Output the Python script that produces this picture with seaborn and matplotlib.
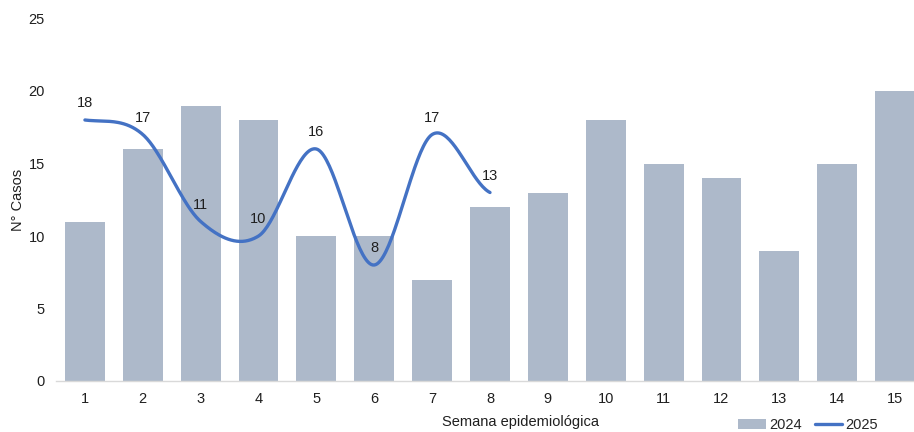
import numpy as np
import pandas as pd
import matplotlib
matplotlib.use("Agg")
import matplotlib.pyplot as plt
import seaborn as sns
from matplotlib.patches import Patch
from matplotlib.lines import Line2D

weeks = [str(i) for i in range(1, 16)]
cases_2024 = [11, 16, 19, 18, 10, 10, 7, 12, 13, 18, 15, 14, 9, 15, 20]
cases_2025 = [18, 17, 11, 10, 16, 8, 17, 13]

bar_color = "#ADB9CA"
line_color = "#4472C4"
text_color = "#1f1f1f"
fs = 10.5

sns.set_theme(style="white")
plt.rcParams["font.family"] = ["Liberation Sans", "DejaVu Sans"]

fig = plt.figure(figsize=(9.14, 4.32), dpi=100)
ax = fig.add_axes([56 / 914, 51 / 432, 868 / 914, 362.5 / 432])

df24 = pd.DataFrame({"week": weeks, "cases": cases_2024})
sns.barplot(data=df24, x="week", y="cases", color=bar_color, saturation=1,
            width=0.69, ax=ax, edgecolor="none")

# Catmull-Rom style smoothing (like Excel smoothed line) for drawing
def catmull_rom(y, n=40):
    y = np.asarray(y, dtype=float)
    x = np.arange(len(y), dtype=float)
    P = np.concatenate([[y[0]], y, [y[-1]]])
    X = np.concatenate([[x[0]], x, [x[-1]]])
    xs, ys = [], []
    for i in range(1, len(P) - 2):
        t = np.linspace(0, 1, n, endpoint=False)
        p0, p1, p2, p3 = P[i - 1], P[i], P[i + 1], P[i + 2]
        q1, q2 = X[i], X[i + 1]
        m1 = (p2 - p0) / 2 if i > 1 else (p2 - p1) / 2
        m2 = (p3 - p1) / 2 if i < len(P) - 3 else (p2 - p1) / 2
        h00 = 2 * t**3 - 3 * t**2 + 1
        h10 = t**3 - 2 * t**2 + t
        h01 = -2 * t**3 + 3 * t**2
        h11 = t**3 - t**2
        ys.append(h00 * p1 + h10 * m1 + h01 * p2 + h11 * m2)
        xs.append(q1 + t * (q2 - q1))
    xs.append([x[-1]])
    ys.append([y[-1]])
    return np.concatenate(xs), np.concatenate(ys)

sx, sy = catmull_rom(cases_2025)
sns.lineplot(x=sx, y=sy, color=line_color, linewidth=2.4, ax=ax, sort=False,
             estimator=None)

for i, v in enumerate(cases_2025):
    ax.annotate(str(v), (i, v), xytext=(0, 12), textcoords="offset points",
                ha="center", va="center", fontsize=fs, color=text_color)

ax.set_xlim(-0.5, 14.5)
ax.set_ylim(0, 25)
ax.set_yticks([0, 5, 10, 15, 20, 25])
ax.tick_params(axis="both", labelsize=fs, colors=text_color, length=0)
ax.tick_params(axis="x", pad=8)
ax.tick_params(axis="y", pad=8)
for s in ["top", "right", "left"]:
    ax.spines[s].set_visible(False)
ax.spines["bottom"].set_color("#D9D9D9")
ax.spines["bottom"].set_linewidth(1)
ax.set_xlabel("")
ax.set_ylabel("N° Casos", fontsize=fs, color=text_color)
ax.yaxis.set_label_coords(-0.036, 0.5)
fig.text(520 / 914, 1 - 422 / 432, "Semana epidemiológica", ha="center",
         va="center", fontsize=fs, color=text_color)

handles = [Patch(facecolor=bar_color, edgecolor="none"),
           Line2D([0], [0], color=line_color, linewidth=2.4)]
fig.legend(handles, ["2024", "2025"], loc="center", ncol=2, frameon=False,
           bbox_to_anchor=(808 / 914, 1 - 425 / 432), fontsize=fs,
           handlelength=1.9, handletextpad=0.2, columnspacing=0.9,
           borderpad=0.1)

fig.savefig("out.png", dpi=100)
